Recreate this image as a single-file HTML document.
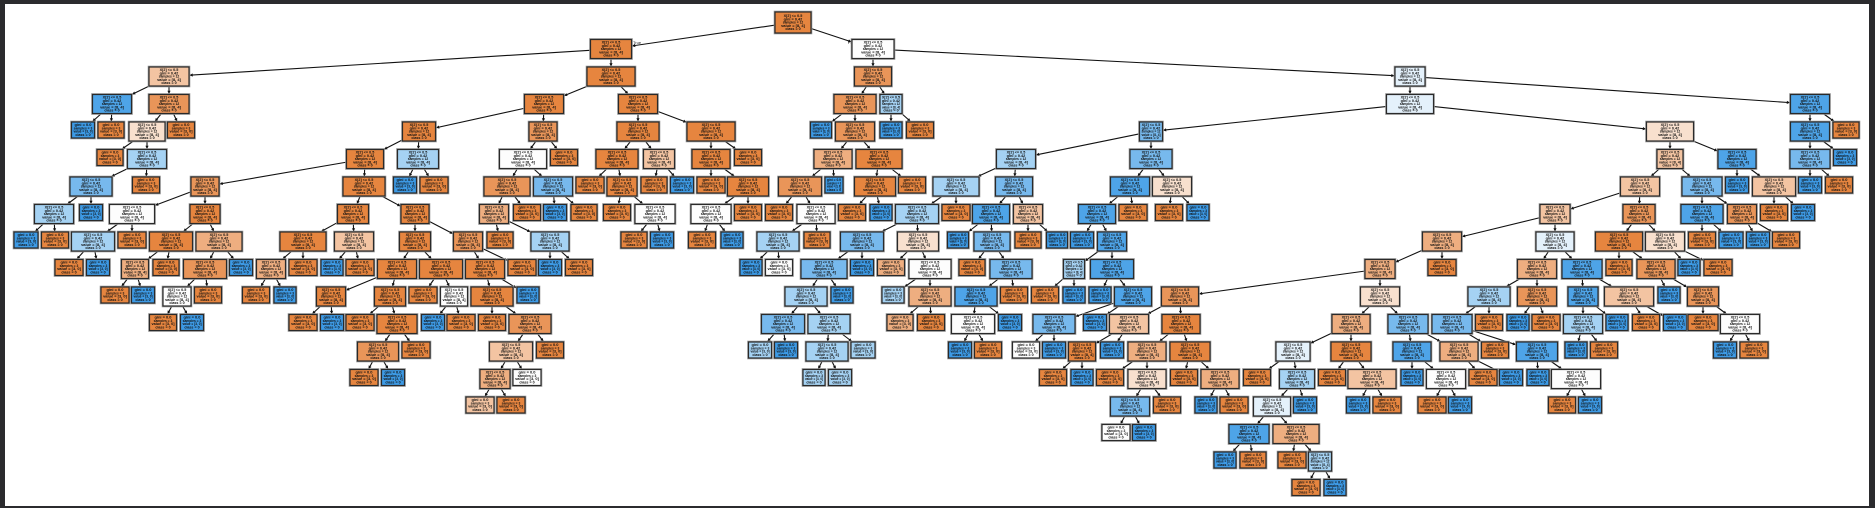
<!DOCTYPE html>
<html><head><meta charset="utf-8"><style>
html,body{margin:0;padding:0;background:#2b2b2e;}
#wrap{position:relative;width:1875px;height:508px;overflow:hidden;background:#2b2b2e;}
svg{position:absolute;left:0;top:0;}
</style></head><body><div id="wrap"><svg id="s" width="1875" height="508" xmlns="http://www.w3.org/2000/svg">
<rect x="5" y="4" width="1864" height="502" fill="#ffffff"/>
<text x="633" y="44" font-size="4" font-family="Liberation Sans, sans-serif" fill="#222">True</text>
<text x="848" y="44" font-size="4" font-family="Liberation Sans, sans-serif" fill="#222">False</text>
</svg></div>
<script>
var data=`r 0 793 36 O -
A 1 611 41 O r
B 1 873 42 W r
A1 2 169 40 q A
A2 2 611 48 O A
B1 2 873 37 o B
S 2 1410 30 b B
A1a 3 112 39 B A1
A1b 3 169 40 o A1
A2a 3 544 39 O A2
A2b 3 638 39 O A2
B1a 3 855 42 o B1
B1b 3 891 22 c B1
a1 4 83 23 D A1a
a2 4 111 26 O A1a
a3 4 147 36 r A1b
a4 4 181 27 O A1b
a5 4 419 33 O A2a
a6 4 543 28 o A2a
a7 4 638 42 O A2b
a8 4 711 48 O A2b
a9 4 821 21 D B1a
a10 4 855 39 o B1a
a11 4 891 22 D B1b
a12 4 920 27 O B1b
S1 3 1410 47 b S
S2 3 1810 39 B S
S1a 4 1151 23 d S1
S1b 4 1670 47 r S1
S2a 4 1810 39 B S2
S2b 4 1846 26 O S2
b1 5 110 26 O a3
b2 5 147 39 c a3
b3 5 365 37 O a5
b4 5 418 41 c a5
b5 5 523 47 W a6
b6 5 564 27 O a6
b7 5 617 42 O a7
b8 5 659 31 q a7
b9 5 711 38 O a8
b10 5 748 27 O a8
b11 5 833 38 p a10
b12 5 879 46 O a10
b13 5 1016 39 c S1a
b14 5 1151 42 d S1a
b15 5 1670 26 q S1b
b16 5 1737 38 B S1b
b17 5 1810 40 d S2a
b18 5 1845 23 D S2a
c1 6 91 42 d b2
c2 6 146 27 O b2
c3 6 205 28 o b3
c4 6 364 42 O b3
c5 6 405 23 D b4
c6 6 434 28 O b4
c7 6 507 46 o b5
c8 6 553 39 d b5
c9 6 590 28 O b7
c10 6 622 30 O b7
c11 6 654 26 O b8
c12 6 682 23 D b8
c13 6 711 28 O b9
c14 6 748 41 O b9
c15 6 800 43 o b11
c16 6 834 18 D b11
c17 6 875 41 O b12
c18 6 912 27 O b12
c19 6 956 46 c b13
c20 6 1014 37 d b13
c21 6 1130 39 B b14
c22 6 1172 39 r b14
c23 6 1640 39 q b15
c24 6 1702 40 d b15
c25 6 1737 23 D b16
c26 6 1774 43 q b16
c27 6 1810 23 D b17
c28 6 1839 27 O b17
d1 7 54 39 c c1
d2 7 91 23 D c1
d3 7 132 45 W c3
d4 7 205 30 O c3
d5 7 353 31 O c4
d6 7 415 28 O c4
d7 7 494 29 p c7
d8 7 527 27 O c7
d9 7 555 23 D c8
d10 7 584 26 O c8
d11 7 617 27 O c10
d12 7 655 40 W c10
d13 7 711 40 W c14
d14 7 748 27 O c14
d15 7 779 27 O c15
d16 7 816 38 W c15
d17 7 852 27 O c17
d18 7 881 22 D c17
d19 7 917 43 c c19
d20 7 956 28 O c19
d21 7 991 37 B c20
d22 7 1028 29 q c20
d23 7 1097 37 B c21
d24 7 1133 28 O c21
d25 7 1169 27 O c22
d26 7 1198 22 D c22
d27 7 1555 30 q c23
d28 7 1639 32 o c23
d29 7 1702 42 B c24
d30 7 1742 29 o c24
d31 7 1774 27 O c26
d32 7 1803 23 D c26
e1 8 26 24 D d1
e2 8 55 27 O d1
e3 8 93 43 c d3
e4 8 132 28 O d3
e5 8 171 43 O d4
e6 8 219 46 p d4
e7 8 303 46 O d5
e8 8 354 39 q d5
e9 8 415 31 O d6
e10 8 468 29 o d6
e11 8 500 26 O d7
e12 8 550 38 c d7
e13 8 634 26 O d12
e14 8 662 23 D d12
e15 8 702 27 O d13
e16 8 732 22 D d13
e17 8 778 42 c d16
e18 8 817 26 O d16
e19 8 862 43 d d19
e20 8 918 41 r d19
e21 8 958 21 D d21
e22 8 992 36 d d21
e23 8 1028 26 O d22
e24 8 1057 21 D d22
e25 8 1082 23 D d23
e26 8 1112 29 B d23
e27 8 1442 39 p d27
e28 8 1555 38 b d27
e29 8 1619 47 O d28
e30 8 1665 39 r d28
e31 8 1702 27 O d29
e32 8 1731 24 D d29
e33 8 1758 23 D d30
e34 8 1786 27 O d30
f1 9 69 28 O e3
f2 9 98 23 D e3
f3 9 135 27 p e5
f4 9 166 26 O e5
f5 9 205 43 o e6
f6 9 241 23 D e6
f7 9 271 29 p e7
f8 9 303 28 O e7
f9 9 332 22 D e8
f10 9 360 28 O e8
f11 9 397 39 O e9
f12 9 441 43 O e9
f13 9 485 39 O e10
f14 9 522 28 O e10
f15 9 550 23 D e12
f16 9 579 27 O e12
f17 9 751 22 D e17
f18 9 779 27 W e17
f19 9 824 46 d e19
f20 9 862 23 D e19
f21 9 891 27 p e20
f22 9 930 42 W e20
f23 9 972 26 O e22
f24 9 1011 42 d e22
f25 9 1074 21 c e26
f26 9 1112 43 B e26
f27 9 1380 30 p e27
f28 9 1442 28 O e27
f29 9 1537 39 p e28
f30 9 1582 40 B e28
f31 9 1619 26 O e29
f32 9 1656 38 o e29
f33 9 1689 22 D e30
f34 9 1718 28 O e30
g1 10 115 28 O f3
g2 10 143 23 D f3
g3 10 177 28 W f5
g4 10 208 27 O f5
g5 10 256 27 O f7
g6 10 285 22 D f7
g7 10 331 29 O f11
g8 10 390 31 O f11
g9 10 423 28 O f12
g10 10 454 27 W f12
g11 10 492 42 O f13
g12 10 528 22 D f13
g13 10 806 42 c f19
g14 10 842 22 D f19
g15 10 893 22 c f22
g16 10 930 42 p f22
g17 10 976 42 B f24
g18 10 1014 27 O f24
g19 10 1045 27 O f25
g20 10 1074 22 D f25
g21 10 1100 22 D f26
g22 10 1133 37 B f26
g23 10 1180 37 o f27
g24 10 1380 39 r f27
g25 10 1489 42 c f29
g26 10 1537 39 o f29
g27 10 1583 30 B f30
g28 10 1629 49 q f30
g29 10 1669 22 D f32
g30 10 1703 31 o f32
h1 11 163 27 O g3
h2 11 192 23 D g3
h3 11 303 28 O g7
h4 11 332 23 D g7
h5 11 360 28 O g8
h6 11 397 40 O g8
h7 11 433 23 D g10
h8 11 461 28 O g10
h9 11 492 27 O g11
h10 11 530 42 o g11
h11 11 783 43 d g13
h12 11 829 42 c g13
h13 11 900 26 p g16
h14 11 931 27 O g16
h15 11 973 43 W g17
h16 11 1010 23 D g17
h17 11 1054 42 d g22
h18 11 1095 23 D g22
h19 11 1129 39 q g23
h20 11 1181 38 O g23
h21 11 1351 38 p g24
h22 11 1408 40 d g24
h23 11 1452 40 d g25
h24 11 1489 27 O g25
h25 11 1518 22 D g26
h26 11 1546 28 O g26
h27 11 1583 39 c g27
h28 11 1617 22 D g27
h29 11 1646 27 O g28
h30 11 1675 23 D g28
h31 11 1703 30 O g30
h32 11 1740 39 W g30
i1 12 378 41 o h6
i2 12 416 28 O h6
i3 12 511 43 q h10
i4 12 550 27 O h10
i5 12 760 23 c h11
i6 12 786 23 D h11
i7 12 827 42 c h12
i8 12 863 24 c h12
i9 12 960 23 D h15
i10 12 988 27 O h15
i11 12 1026 27 W h17
i12 12 1054 23 D h17
i13 12 1082 27 O h19
i14 12 1112 23 D h19
i15 12 1147 38 p h20
i16 12 1190 40 O h20
i17 12 1293 34 b h21
i18 12 1351 40 O h21
i19 12 1412 38 B h22
i20 12 1459 38 p h22
i21 12 1495 27 O h23
i22 12 1537 41 B h23
i23 12 1576 22 D h27
i24 12 1604 27 O h27
i25 12 1725 23 D h32
i26 12 1754 28 O h32
j1 13 364 28 O i1
j2 13 393 23 D i1
j3 13 495 30 p i3
j4 13 527 28 W i3
j5 13 814 22 c i7
j6 13 840 23 c i7
j7 13 1053 27 O i13
j8 13 1082 22 D i13
j9 13 1110 27 O i15
j10 13 1147 38 r i15
j11 13 1184 27 O i16
j12 13 1220 38 p i16
j13 13 1257 27 O i17
j14 13 1297 35 c i17
j15 13 1332 27 O i18
j16 13 1372 48 q i18
j17 13 1412 22 D i19
j18 13 1446 39 W i19
j19 13 1483 28 O i20
j20 13 1511 23 D i20
j21 13 1538 22 D i22
j22 13 1576 49 W i22
k1 14 480 28 q j3
k2 14 511 28 O j3
k3 14 1130 39 d j10
k4 14 1167 27 O j10
k5 14 1206 22 D j12
k6 14 1234 28 O j12
k7 14 1272 37 b j14
k8 14 1305 23 D j14
k9 14 1358 23 D j16
k10 14 1387 28 O j16
k11 14 1432 28 O j18
k12 14 1460 23 D j18
k13 14 1562 27 O j22
k14 14 1590 23 D j22
l1 15 1116 28 W k3
l2 15 1144 23 D k3
l3 15 1249 40 B k7
l4 15 1296 46 p k7
m1 16 1225 22 D l3
m2 16 1253 26 O l3
m3 16 1292 28 O l4
m4 16 1320 23 c l4
n1 17 1306 28 O m4
n2 17 1335 22 D m4`;
var col={O:"#e6853f",o:"#e99559",p:"#eeae80",q:"#f3c4a2",r:"#f8e0ce",W:"#fdfdfd",b:"#e4f1fb",c:"#a5d2f3",d:"#77b9ed",B:"#4ea4e8",D:"#3d9ae5"};
var N={},order=[];
data.split("\n").forEach(function(l){var t=l.trim().split(/\s+/);var n={id:t[0],L:+t[1],x:+t[2],w:+t[3],c:t[4],p:t[5],kids:0};N[n.id]=n;order.push(n);});
order.forEach(function(n){if(N[n.p])N[n.p].kids++;});
order.forEach(function(n){var leaf=n.kids==0;n.h=n.L==0?21:(leaf?16:19);n.y=12+27.5*n.L;n.cy=n.y+n.h/2;});
var s=document.getElementById("s"),NS="http://www.w3.org/2000/svg";
function el(t,a){var e=document.createElementNS(NS,t);for(var k in a)e.setAttribute(k,a[k]);s.appendChild(e);return e;}
function clip(n,dx,dy){var hw=n.w/2+0.5,hh=n.h/2+0.5;var tx=dx?Math.abs(hw/dx):1e9,ty=dy?Math.abs(hh/dy):1e9;return Math.min(tx,ty);}
order.forEach(function(n){var p=N[n.p];if(!p)return;
 var dx=n.x-p.x,dy=n.cy-p.cy;var t0=clip(p,dx,dy),t1=1-clip(n,-dx,-dy);
 var x0=p.x+dx*t0,y0=p.cy+dy*t0,x1=p.x+dx*t1,y1=p.cy+dy*t1;
 el("line",{x1:x0,y1:y0,x2:x1,y2:y1,stroke:"#111","stroke-width":1.1});
 var L=Math.hypot(x1-x0,y1-y0),ux=(x1-x0)/L,uy=(y1-y0)/L,a=3.2,b=1.6;
 el("polygon",{points:x1+","+y1+" "+(x1-ux*a-uy*b)+","+(y1-uy*a+ux*b)+" "+(x1-ux*a+uy*b)+","+(y1-uy*a-ux*b),fill:"#111"});
});
var lines=[["X[2] <= 0.5","gini = 0.42","samples = 12","value = [8, 4]","class = 0"],["gini = 0.0","samples = 3","value = [3, 0]","class = 0"]];
order.forEach(function(n){var x=n.x-n.w/2;
 el("rect",{x:x-0.8,y:n.y-0.8,width:n.w+1.6,height:n.h+1.6,fill:"none",stroke:"#9a9a9a","stroke-width":1});
 el("rect",{x:x,y:n.y,width:n.w,height:n.h,fill:col[n.c],stroke:"#2a2a2a","stroke-width":1.2});
 var ls=n.kids?lines[0]:lines[1];var fs=3.2;var y0=n.y+(n.h-ls.length*3.3)/2+2.7;
 ls.forEach(function(t,i){var e=el("text",{x:n.x,y:y0+i*3.3,"font-size":fs,"font-weight":"bold","font-family":"Liberation Sans, sans-serif","text-anchor":"middle",fill:"#111",textLength:Math.min(n.w-4,t.length*1.7),lengthAdjust:"spacingAndGlyphs"});e.textContent=t;});
});
</script></body></html>
